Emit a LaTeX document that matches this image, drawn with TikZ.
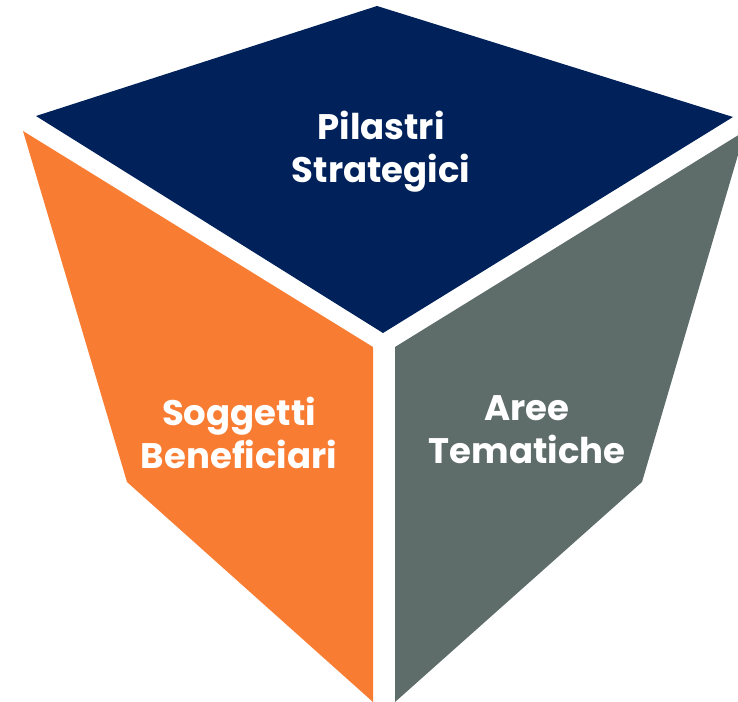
\documentclass[tikz,border=0pt]{standalone}
\usepackage{fontspec}
\setmainfont{Poppins}
\usepackage{tikz}

\definecolor{navyface}{HTML}{00215A}
\definecolor{orangeface}{HTML}{F97C33}
\definecolor{greyface}{HTML}{5E6C6A}

\begin{document}
\begin{tikzpicture}[x=1pt,y=-1pt,
		facelabel/.style={text=white, align=center, font=\fontsize{35.5}{43}\selectfont\bfseries}]
		\useasboundingbox (0,0) rectangle (738,701);
		\clip (0,0) rectangle (738,701);
		
		% Faccia superiore
		\fill[navyface] (36,116) -- (377,6) -- (733,117) -- (383,333) -- cycle;
		
		% Faccia sinistra
		\fill[orangeface] (23,131) -- (373,347) -- (373,702) -- (127,482) -- cycle;
		
		% Faccia destra
		\fill[greyface] (395,347) -- (745,131) -- (642,482) -- (395,702) -- cycle;
		
		% Etichette
		\node[facelabel] (pilastri) at (381,152) {Pilastri\\Strategici};
		\node[facelabel] (soggetti) at (239,433) {Soggetti\\Beneficiari};
		\node[facelabel] (aree) at (527,430) {Aree\\Tematiche};
		
	\end{tikzpicture}
\end{document}
